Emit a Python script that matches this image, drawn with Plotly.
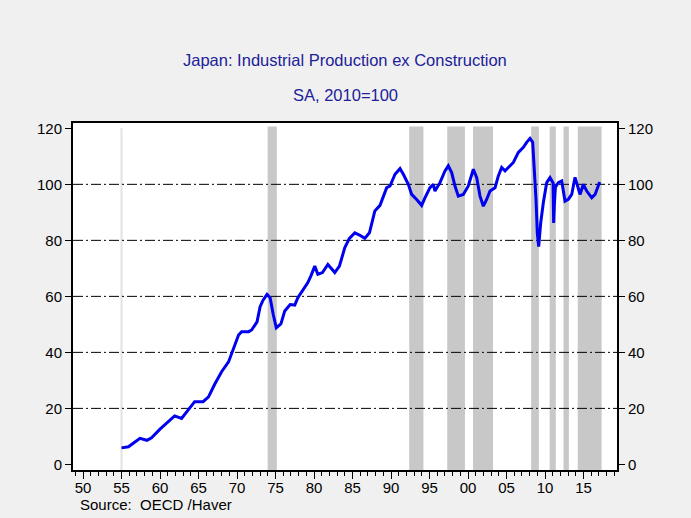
import plotly.graph_objects as go

# Japan industrial production ex construction, SA, 2010=100
years = [1955.0, 1955.9, 1956.7, 1957.4, 1958.3, 1958.9, 1960.0, 1961.1, 1961.9, 1962.8,
         1963.5, 1964.5, 1965.6, 1966.3, 1967.1, 1968.0, 1968.9, 1969.5, 1970.2, 1970.6,
         1971.5, 1971.9, 1972.6, 1973.0, 1973.4, 1973.9, 1974.3, 1974.7, 1975.1, 1975.7,
         1976.2, 1976.9, 1977.5, 1977.9, 1978.6, 1979.2, 1979.6, 1980.1, 1980.5, 1981.1,
         1981.8, 1982.7, 1983.3, 1984.0, 1984.6, 1985.3, 1985.9, 1986.6, 1987.2, 1987.9,
         1988.57, 1989.0, 1989.44, 1989.87, 1990.52, 1991.17, 1991.6, 1992.25, 1992.68, 1993.33,
         1993.98, 1994.41, 1995.06, 1995.5, 1995.71, 1996.36, 1997.01, 1997.44, 1997.88, 1998.31,
         1998.74, 1999.39, 2000.04, 2000.69, 2001.13, 2001.56, 2001.99, 2002.42, 2002.86, 2003.51,
         2003.94, 2004.37, 2004.81, 2005.24, 2005.89, 2006.54, 2007.19, 2007.62, 2008.05, 2008.4,
         2008.61, 2008.83, 2009.0, 2009.18, 2009.44, 2009.78, 2010.22, 2010.65, 2011.05, 2011.12,
         2011.22, 2011.35, 2011.73, 2012.17, 2012.6, 2013.03, 2013.47, 2013.9, 2014.55, 2014.98,
         2015.42, 2016.07, 2016.5, 2017.1]
values = [5.9, 6.3, 7.9, 9.3, 8.6, 9.5, 12.6, 15.2, 17.3, 16.4,
          18.8, 22.4, 22.4, 24.1, 28.6, 33.1, 36.6, 40.8, 46.2, 47.4,
          47.4, 48.0, 50.9, 56.3, 58.7, 60.7, 59.5, 53.6, 48.8, 50.2,
          54.8, 57.1, 56.9, 59.5, 62.5, 64.9, 67.3, 70.8, 67.9, 68.5,
          71.4, 68.5, 70.8, 77.4, 80.7, 82.7, 81.9, 80.7, 82.7, 90.5,
          92.5, 95.8, 98.8, 99.4, 103.6, 105.6, 103.6, 100.0, 96.4, 94.6,
          92.5, 95.2, 98.8, 100.0, 97.6, 100.6, 104.8, 106.6, 104.2, 99.4,
          95.8, 96.4, 99.4, 105.4, 102.4, 95.8, 92.2, 94.6, 97.6, 98.8,
          103.0, 106.0, 104.8, 106.0, 107.8, 111.4, 113.2, 115.0, 116.4, 115.0,
          106.6, 94.6, 82.6, 77.8, 86.2, 93.4, 100.6, 102.4, 100.5, 86.2,
          93.0, 99.0, 100.6, 101.2, 94.0, 94.6, 96.4, 102.5, 96.4, 100.0,
          97.6, 95.2, 96.4, 100.8]

# Recession shading periods (decimal years)
rec_start = [1973.98, 1992.36, 1997.3, 2000.65, 2008.2, 2010.6, 2012.4, 2014.25]
rec_end = [1975.17, 1994.21, 1999.6, 2003.25, 2009.2, 2011.4, 2013.1, 2017.35]

# Axis ticks
x_tickvals = list(range(1950, 2016, 5))
x_ticktext = ["50", "55", "60", "65", "70", "75", "80", "85", "90", "95", "00", "05", "10", "15"]
y_tickvals = [0, 20, 40, 60, 80, 100, 120]
grid_levels = [20, 40, 60, 80, 100]
start_marker = 1955

title_text = "Japan: Industrial Production ex Construction"
subtitle_text = "SA, 2010=100"
source_text = "Source:  OECD /Haver"

FONT = "Liberation Sans, Arial, sans-serif"
XR = [1948.70, 2019.35]
YR = [-2.0, 121.9]

fig = go.Figure()
fig.add_trace(go.Scatter(x=years, y=values, mode="lines",
                         line=dict(color="#0000f0", width=3),
                         showlegend=False, hoverinfo="skip"))
fig.add_trace(go.Scatter(x=years, y=values, mode="lines", yaxis="y2",
                         line=dict(color="rgba(0,0,0,0)", width=0),
                         showlegend=False, hoverinfo="skip"))

shapes = []
shapes.append(dict(type="line", xref="x", yref="paper", x0=start_marker, x1=start_marker,
                   y0=0, y1=0.985, line=dict(color="#e2e2e2", width=2), layer="below"))
for s, e in zip(rec_start, rec_end):
    shapes.append(dict(type="rect", xref="x", yref="paper", x0=s, x1=e, y0=0, y1=0.99,
                       fillcolor="#c8c8c8", line=dict(width=0), layer="below"))
for g in grid_levels:
    shapes.append(dict(type="line", xref="paper", yref="y", x0=0, x1=1, y0=g, y1=g,
                       line=dict(color="black", width=1, dash="10px,3px,2px,3px"), layer="below"))

fig.update_layout(
    width=691, height=518,
    margin=dict(l=73, r=74, t=123, b=48),
    paper_bgcolor="#f0f0f0", plot_bgcolor="white",
    font=dict(family=FONT, size=15, color="black"),
    shapes=shapes,
    hovermode=False,
    xaxis=dict(range=XR, tickmode="array", tickvals=x_tickvals, ticktext=x_ticktext,
               ticks="outside", ticklen=7, tickwidth=1, tickcolor="black",
               showline=True, linecolor="black", linewidth=2, mirror=True,
               showgrid=False, zeroline=False, ticklabelstandoff=-4,
               minor=dict(tickmode="linear", tick0=1950, dtick=1, ticks="outside",
                          ticklen=4, tickcolor="black", tickwidth=1, showgrid=False),
               tickfont=dict(size=15)),
    yaxis=dict(range=YR, tickmode="array", tickvals=y_tickvals,
               ticks="outside", ticklen=6, tickcolor="black",
               showline=True, linecolor="black", linewidth=2,
               showgrid=False, zeroline=False, tickfont=dict(size=15)),
    yaxis2=dict(range=YR, overlaying="y", side="right", tickmode="array", tickvals=y_tickvals,
                ticks="outside", ticklen=6, tickcolor="black",
                showline=True, linecolor="black", linewidth=2,
                showgrid=False, zeroline=False, tickfont=dict(size=15)),
    annotations=[
        dict(text=title_text, xref="paper", yref="paper", x=0.5, y=1.1816,
             xanchor="center", yanchor="middle", showarrow=False,
             font=dict(size=16.5, color="#20209a", family=FONT)),
        dict(text=subtitle_text, xref="paper", yref="paper", x=0.5, y=1.0807,
             xanchor="center", yanchor="middle", showarrow=False,
             font=dict(size=16.5, color="#20209a", family=FONT)),
        dict(text=source_text, xref="paper", yref="paper", x=0.009, y=-0.1,
             xanchor="left", yanchor="middle", showarrow=False,
             font=dict(size=15, color="black", family=FONT)),
    ],
)

fig.write_html("out.html", config={"displayModeBar": False},
               post_script="document.body.style.margin='0';")
